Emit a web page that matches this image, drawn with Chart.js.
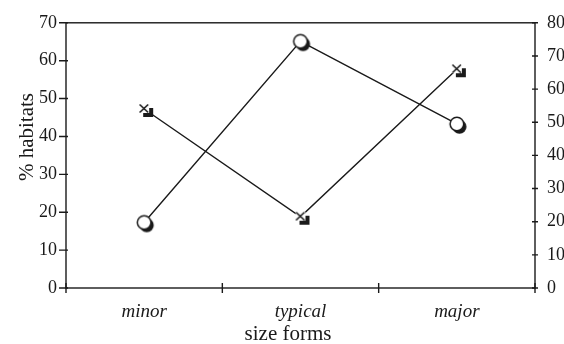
<!DOCTYPE html>
<html>
<head>
<meta charset="utf-8">
<script src="https://cdn.jsdelivr.net/npm/chart.js@4"></script>
<style>
  html, body { margin: 0; padding: 0; background: #fff; overflow: hidden; }
  #wrap { width: 564px; height: 344px; }
</style>
</head>
<body>
<div id="wrap"><canvas id="chart"></canvas></div>
<script>
// data
const categories  = ['minor', 'typical', 'major'];
const circleVals  = [17.3, 65.1, 43.3];   // left axis
const crossVals   = [54.0, 21.5, 66.0];   // right axis
const leftTicks   = [0, 10, 20, 30, 40, 50, 60, 70];
const rightTicks  = [0, 10, 20, 30, 40, 50, 60, 70, 80];
const xTitle = 'size forms';
const yTitle = '% habitats';

const INK   = '#1a1a1a';
const SERIF = '"Liberation Serif", "DejaVu Serif", serif';

// marker images: open circle with a black drop shadow, cross on a shadowed square
function circleMarker() {
  const c = document.createElement('canvas');
  c.width = 24; c.height = 24;
  const g = c.getContext('2d');
  g.fillStyle = INK;
  g.beginPath(); g.arc(14.6, 14.8, 7, 0, Math.PI * 2); g.fill();
  g.fillStyle = '#fff'; g.strokeStyle = INK; g.lineWidth = 1.5;
  g.beginPath(); g.arc(12, 12, 6.8, 0, Math.PI * 2); g.fill(); g.stroke();
  return c;
}
function crossMarker() {
  const c = document.createElement('canvas');
  c.width = 26; c.height = 26;
  const g = c.getContext('2d');
  const m = 13;
  g.fillStyle = INK;
  g.fillRect(m - 1, m - 1, 10, 9);
  g.fillStyle = '#fff';
  g.fillRect(m - 5, m - 5, 10, 9);
  g.strokeStyle = INK; g.lineWidth = 1.6;
  g.beginPath();
  g.moveTo(m - 4.5, m - 4.5); g.lineTo(m + 4, m + 3.5);
  g.moveTo(m + 4, m - 4.5); g.lineTo(m - 4.5, m + 3.5);
  g.stroke();
  return c;
}

// box, crossing tick marks and the two axis titles
const framePlugin = {
  id: 'frame',
  afterDraw(chart) {
    const { ctx, chartArea: a, scales } = chart;
    ctx.save();
    ctx.strokeStyle = INK; ctx.lineWidth = 1.4;
    ctx.strokeRect(a.left, a.top, a.right - a.left, a.bottom - a.top);
    ctx.beginPath();
    const n = categories.length;
    for (let i = 0; i <= n; i++) {
      const x = a.left + i * (a.right - a.left) / n;
      ctx.moveTo(x, a.bottom - 5); ctx.lineTo(x, a.bottom + 5);
    }
    leftTicks.forEach(v => {
      const y = scales.y.getPixelForValue(v);
      ctx.moveTo(a.left - 7, y); ctx.lineTo(a.left + 2, y);
    });
    rightTicks.forEach(v => {
      const y = scales.y2.getPixelForValue(v);
      ctx.moveTo(a.right - 3, y); ctx.lineTo(a.right + 3, y);
    });
    ctx.stroke();

    ctx.fillStyle = INK;
    ctx.font = '21px ' + SERIF;
    ctx.textAlign = 'center'; ctx.textBaseline = 'middle';
    ctx.fillText(xTitle, 288, 334);
    ctx.translate(27, 137);
    ctx.rotate(-Math.PI / 2);
    ctx.fillText(yTitle, 0, 0);
    ctx.restore();
  }
};

const tickFont = { family: SERIF, size: 18 };

new Chart(document.getElementById('chart'), {
  type: 'line',
  data: {
    labels: categories,
    datasets: [
      { data: circleVals, yAxisID: 'y', borderColor: INK, borderWidth: 1.4,
        pointStyle: circleMarker(), pointRadius: 8, tension: 0 },
      { data: crossVals, yAxisID: 'y2', borderColor: INK, borderWidth: 1.4,
        pointStyle: crossMarker(), pointRadius: 8, tension: 0 }
    ]
  },
  options: {
    responsive: true, maintainAspectRatio: false, animation: false,
    layout: { padding: { top: 21, left: 0, right: 0, bottom: 0 } },
    plugins: { legend: { display: false }, tooltip: { enabled: false } },
    scales: {
      x: {
        offset: true,
        grid: { display: false, drawTicks: false, offset: true },
        border: { display: false },
        ticks: { color: INK, font: { family: SERIF, size: 19, style: 'italic' }, padding: 13 },
        afterFit: s => { s.height = 56; }
      },
      y: {
        position: 'left', min: 0, max: 70,
        grid: { display: false, drawTicks: false },
        border: { display: false },
        ticks: { color: INK, font: tickFont, stepSize: 10, padding: 9 },
        afterFit: s => { s.width = 66; }
      },
      y2: {
        position: 'right', min: 0, max: 80,
        grid: { display: false, drawTicks: false },
        border: { display: false },
        ticks: { color: INK, font: tickFont, stepSize: 10, padding: 12 },
        afterFit: s => { s.width = 29; }
      }
    }
  },
  plugins: [framePlugin]
});
</script>
</body>
</html>
